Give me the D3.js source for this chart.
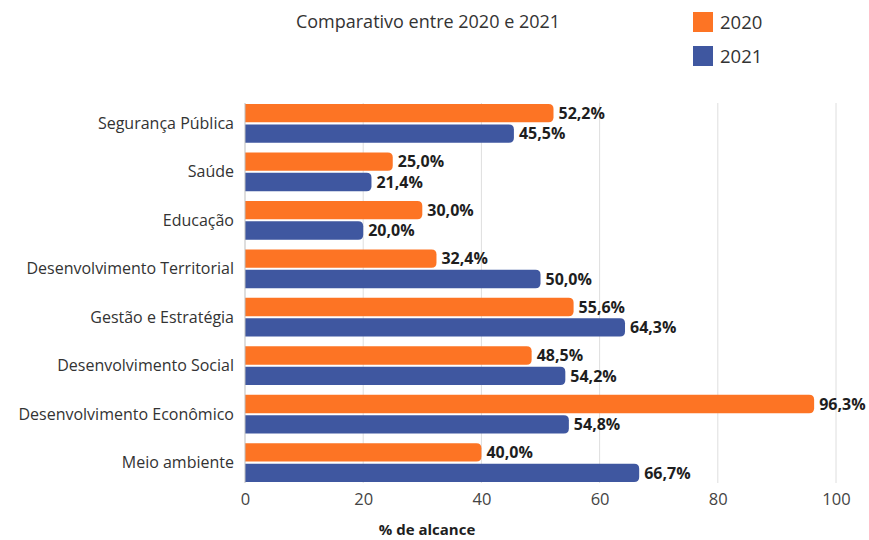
<!DOCTYPE html>
<html>
<head>
<meta charset="utf-8">
<script src="https://cdn.jsdelivr.net/npm/d3@7"></script>
<style>
  body { margin: 0; background: #fff; }
  svg text { font-family: "Open Sans", Roboto, sans-serif; }
</style>
</head>
<body>
<svg id="chart" width="869" height="540"></svg>
<script>
var categories = ['Segurança Pública', 'Saúde', 'Educação', 'Desenvolvimento Territorial',
                  'Gestão e Estratégia', 'Desenvolvimento Social', 'Desenvolvimento Econômico', 'Meio ambiente'],
    series = ['2020', '2021'],
    values2020 = [52.2, 25.0, 30.0, 32.4, 55.6, 48.5, 96.3, 40.0],
    values2021 = [45.5, 21.4, 20.0, 50.0, 64.3, 54.2, 54.8, 66.7],
    xTicks = [0, 20, 40, 60, 80, 100],
    colors = { '2020': '#fd7424', '2021': '#3f57a0' };

var svg = d3.select('#chart'),
    plotLeft = 245, plotRight = 836, plotTop = 103, plotBottom = 483;

var x = d3.scaleLinear().domain([0, 100]).range([plotLeft, plotRight]);
var y = d3.scaleBand().domain(categories).range([plotTop, plotBottom]).paddingInner(0.2).paddingOuter(0.02);
var ySub = d3.scaleBand().domain(series).range([0, y.bandwidth()]).paddingInner(0.1);

// gridlines
svg.append('g')
    .selectAll('line')
    .data(xTicks.slice(1))
    .enter().append('line')
    .attr('x1', function (d) { return x(d); })
    .attr('x2', function (d) { return x(d); })
    .attr('y1', plotTop)
    .attr('y2', plotBottom)
    .attr('stroke', '#dedede')
    .attr('stroke-width', 1);

// bars with rounded right end
function barPath(x0, y0, w, h, r) {
    r = Math.min(r, w, h / 2);
    return 'M' + x0 + ',' + y0 +
        'H' + (x0 + w - r) +
        'Q' + (x0 + w) + ',' + y0 + ' ' + (x0 + w) + ',' + (y0 + r) +
        'V' + (y0 + h - r) +
        'Q' + (x0 + w) + ',' + (y0 + h) + ' ' + (x0 + w - r) + ',' + (y0 + h) +
        'H' + x0 + 'Z';
}

var rows = categories.map(function (c, i) {
    return { cat: c, vals: [{ s: '2020', v: values2020[i] }, { s: '2021', v: values2021[i] }] };
});

var groups = svg.append('g')
    .selectAll('g')
    .data(rows)
    .enter().append('g')
    .attr('transform', function (d) { return 'translate(0,' + y(d.cat) + ')'; });

groups.selectAll('path')
    .data(function (d) { return d.vals; })
    .enter().append('path')
    .attr('d', function (d) {
        return barPath(x(0), ySub(d.s), x(d.v) - x(0), ySub.bandwidth(), 5);
    })
    .attr('fill', function (d) { return colors[d.s]; });

groups.selectAll('text.val')
    .data(function (d) { return d.vals; })
    .enter().append('text')
    .attr('class', 'val')
    .attr('x', function (d) { return x(d.v) + 5; })
    .attr('y', function (d) { return ySub(d.s) + ySub.bandwidth() / 2; })
    .attr('dy', '0.36em')
    .attr('font-size', 16)
    .attr('font-weight', 'bold')
    .attr('fill', '#1e1e1e')
    .text(function (d) { return d.v.toFixed(1).replace('.', ',') + '%'; });

// left axis line
svg.append('line')
    .attr('x1', x(0)).attr('x2', x(0))
    .attr('y1', plotTop).attr('y2', plotBottom)
    .attr('stroke', '#bdbdbd');

// category labels
svg.append('g')
    .selectAll('text')
    .data(categories)
    .enter().append('text')
    .attr('x', x(0) - 11)
    .attr('y', function (d) { return y(d) + y.bandwidth() / 2; })
    .attr('dy', '0.35em')
    .attr('text-anchor', 'end')
    .attr('font-size', 16)
    .attr('fill', '#333')
    .text(function (d) { return d; });

// x axis tick labels
var xAxis = d3.axisBottom(x).tickValues(xTicks).tickSize(0).tickPadding(10);
svg.append('g')
    .attr('transform', 'translate(0,' + plotBottom + ')')
    .call(xAxis)
    .call(function (g) { g.select('.domain').remove(); })
    .selectAll('text')
    .attr('font-size', 16.5)
    .attr('fill', '#444')
    .style('font-family', '"Open Sans", Roboto, sans-serif');

// axis title
svg.append('text')
    .attr('x', 427)
    .attr('y', 530)
    .attr('dy', '0.35em')
    .attr('text-anchor', 'middle')
    .attr('font-size', 15)
    .attr('font-weight', 'bold')
    .attr('fill', '#1e1e1e')
    .text('% de alcance');

// chart title
svg.append('text')
    .attr('x', 428)
    .attr('y', 22)
    .attr('dy', '0.35em')
    .attr('text-anchor', 'middle')
    .attr('font-size', 18)
    .attr('fill', '#333')
    .text('Comparativo entre 2020 e 2021');

// legend
var legend = svg.append('g')
    .selectAll('g')
    .data(series)
    .enter().append('g')
    .attr('transform', function (d, i) { return 'translate(693,' + (12 + i * 34) + ')'; });
legend.append('rect')
    .attr('width', 20).attr('height', 20)
    .attr('fill', function (d) { return colors[d]; });
legend.append('text')
    .attr('x', 27).attr('y', 10).attr('dy', '0.36em')
    .attr('font-size', 18.5)
    .attr('fill', '#333')
    .text(function (d) { return d; });
</script>
</body>
</html>
